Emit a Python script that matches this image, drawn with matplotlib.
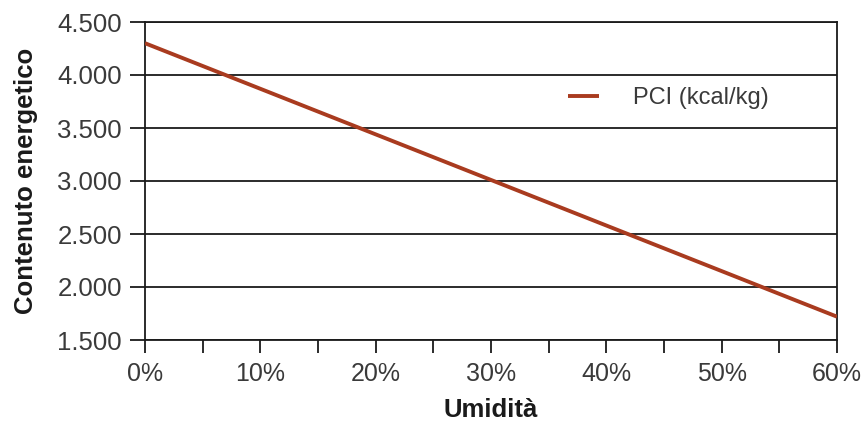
import matplotlib
matplotlib.use("Agg")
import matplotlib.pyplot as plt
from matplotlib.ticker import FuncFormatter, MultipleLocator

plt.rcParams["font.family"] = ["Liberation Sans", "DejaVu Sans"]

# PCI vs moisture content
umidita = [0.0, 0.10, 0.20, 0.30, 0.40, 0.50, 0.60]
pci = [4300, 3870, 3440, 3010, 2580, 2150, 1720]

y_ticks = [1500, 2000, 2500, 3000, 3500, 4000, 4500]
x_ticks = [0.0, 0.10, 0.20, 0.30, 0.40, 0.50, 0.60]

fig = plt.figure(figsize=(8.66, 4.21), dpi=100)
ax = fig.add_axes([145 / 866, 1 - 340 / 421, 692 / 866, 318 / 421])

ax.plot(umidita, pci, color="#A93B1F", lw=2.8, label="PCI (kcal/kg)",
        solid_capstyle="butt", zorder=3)

ax.set_xlim(0, 0.60)
ax.set_ylim(1500, 4500)
ax.set_xticks(x_ticks)
ax.xaxis.set_minor_locator(MultipleLocator(0.05))
ax.set_yticks(y_ticks)
ax.xaxis.set_major_formatter(FuncFormatter(lambda v, _: f"{v * 100:.0f}%"))
ax.yaxis.set_major_formatter(
    FuncFormatter(lambda v, _: f"{v:,.0f}".replace(",", ".")))

ax.grid(axis="y", color="#1a1a1a", lw=1.3)
ax.set_axisbelow(True)
for side in ["left", "right", "bottom", "top"]:
    ax.spines[side].set_color("#1a1a1a")
    ax.spines[side].set_linewidth(1.3)

ax.tick_params(axis="x", which="both", direction="out", length=9.5, width=1.3,
               color="#1a1a1a", labelsize=18, labelcolor="#3a3a3a", pad=6)
ax.tick_params(axis="y", direction="out", length=10.5, width=1.3,
               color="#1a1a1a", labelsize=18.5, labelcolor="#3a3a3a", pad=6)

ax.set_xlabel("Umidità", fontsize=18.5, fontweight="bold", color="#1a1a1a",
              labelpad=9)
ax.set_ylabel("Contenuto energetico", fontsize=18.5, fontweight="bold",
              color="#1a1a1a", labelpad=14)

ax.legend(loc="center left", bbox_to_anchor=(0.611, 0.761), frameon=False,
          fontsize=17, handlelength=1.31, handletextpad=1.44,
          borderpad=0, borderaxespad=0, labelcolor="#3a3a3a")

fig.savefig("out.png", dpi=100)
